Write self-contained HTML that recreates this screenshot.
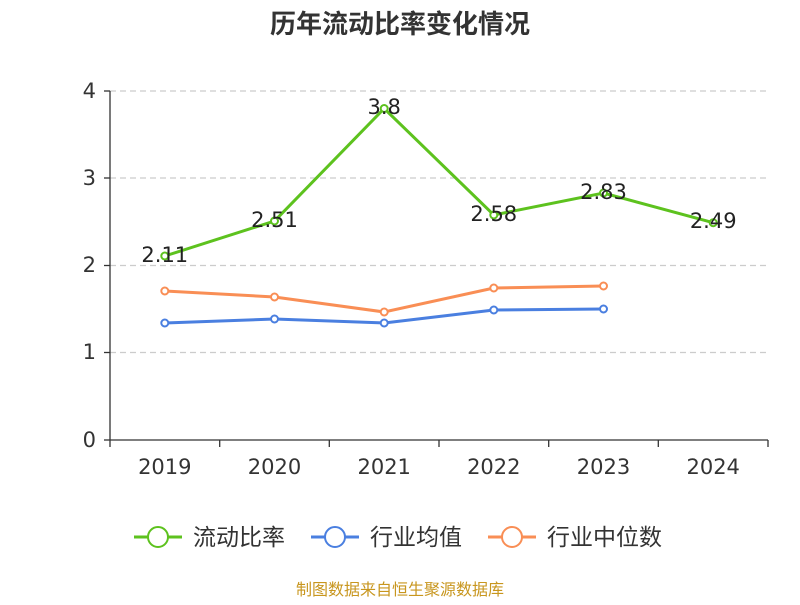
<!DOCTYPE html>
<html><head><meta charset="utf-8"><style>body{margin:0;background:#fff}svg text{font-family:"DejaVu Sans","Noto Sans CJK SC",sans-serif}</style></head>
<body><svg width="800" height="600" xmlns="http://www.w3.org/2000/svg">
<rect width="800" height="600" fill="#fff"/>
<text x="400" y="33" text-anchor="middle" font-size="26" font-weight="bold" fill="#333">历年流动比率变化情况</text>
<g stroke="#ccc" stroke-dasharray="6,4" stroke-width="1.3">
<line x1="110" x2="768" y1="91" y2="91"/><line x1="110" x2="768" y1="178" y2="178"/><line x1="110" x2="768" y1="265.5" y2="265.5"/><line x1="110" x2="768" y1="352.5" y2="352.5"/></g>
<g stroke="#333" stroke-width="1.3"><line x1="110" y1="91" x2="110" y2="440"/><line x1="110" y1="440" x2="768" y2="440"/>
<line x1="104" x2="110" y1="91" y2="91"/><line x1="104" x2="110" y1="178" y2="178"/><line x1="104" x2="110" y1="265.5" y2="265.5"/><line x1="104" x2="110" y1="352.5" y2="352.5"/><line x1="104" x2="110" y1="440" y2="440"/>
<line x1="110" x2="110" y1="440" y2="447"/><line x1="219.7" x2="219.7" y1="440" y2="447"/><line x1="329.3" x2="329.3" y1="440" y2="447"/><line x1="439" x2="439" y1="440" y2="447"/><line x1="548.7" x2="548.7" y1="440" y2="447"/><line x1="658.3" x2="658.3" y1="440" y2="447"/><line x1="768" x2="768" y1="440" y2="447"/></g>
<g font-size="21" fill="#333" text-anchor="end"><text x="96" y="98">4</text><text x="96" y="185">3</text><text x="96" y="272">2</text><text x="96" y="359">1</text><text x="96" y="447">0</text></g>
<g font-size="21" fill="#333" text-anchor="middle"><text x="164.8" y="474">2019</text><text x="274.5" y="474">2020</text><text x="384.2" y="474">2021</text><text x="493.8" y="474">2022</text><text x="603.5" y="474">2023</text><text x="713.2" y="474">2024</text></g>
<polyline fill="none" stroke="#f98e55" stroke-width="3" points="164.8,291 274.5,297 384.2,312 493.8,288 603.5,286"/>
<polyline fill="none" stroke="#4a7fe0" stroke-width="3" points="164.8,323 274.5,319 384.2,323 493.8,310 603.5,309"/>
<polyline fill="none" stroke="#5dc21e" stroke-width="3" points="164.8,256 274.5,221 384.2,108.5 493.8,215 603.5,193 713.2,222.7"/>
<g fill="#fff" stroke-width="2">
<g stroke="#f98e55"><circle cx="164.8" cy="291" r="3.5"/><circle cx="274.5" cy="297" r="3.5"/><circle cx="384.2" cy="312" r="3.5"/><circle cx="493.8" cy="288" r="3.5"/><circle cx="603.5" cy="286" r="3.5"/></g>
<g stroke="#4a7fe0"><circle cx="164.8" cy="323" r="3.5"/><circle cx="274.5" cy="319" r="3.5"/><circle cx="384.2" cy="323" r="3.5"/><circle cx="493.8" cy="310" r="3.5"/><circle cx="603.5" cy="309" r="3.5"/></g>
<g stroke="#5dc21e"><circle cx="164.8" cy="256" r="3.5"/><circle cx="274.5" cy="221" r="3.5"/><circle cx="384.2" cy="108.5" r="3.5"/><circle cx="493.8" cy="215" r="3.5"/><circle cx="603.5" cy="193" r="3.5"/><circle cx="713.2" cy="222.7" r="3.5"/></g></g>
<g font-size="21" fill="#222" text-anchor="middle"><text x="164.8" y="262">2.11</text><text x="274.5" y="227">2.51</text><text x="384.2" y="114">3.8</text><text x="493.8" y="221">2.58</text><text x="603.5" y="199">2.83</text><text x="713.2" y="228">2.49</text></g>
<g stroke-width="3" fill="#fff">
<line x1="134" x2="182" y1="537" y2="537" stroke="#5dc21e"/><circle cx="158" cy="537" r="10" stroke="#5dc21e" stroke-width="2"/>
<line x1="311" x2="359" y1="537" y2="537" stroke="#4a7fe0"/><circle cx="335" cy="537" r="10" stroke="#4a7fe0" stroke-width="2"/>
<line x1="488" x2="536" y1="537" y2="537" stroke="#f98e55"/><circle cx="512" cy="537" r="10" stroke="#f98e55" stroke-width="2"/></g>
<g font-size="23" fill="#333"><text x="193" y="545">流动比率</text><text x="370" y="545">行业均值</text><text x="547" y="545">行业中位数</text></g>
<text x="400" y="595" text-anchor="middle" font-size="16" fill="#c8961e">制图数据来自恒生聚源数据库</text>
</svg></body></html>
